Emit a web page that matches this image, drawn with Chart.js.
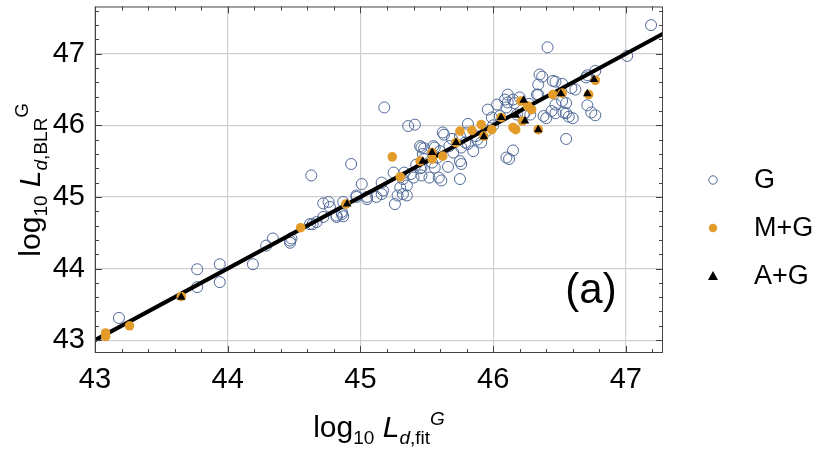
<!DOCTYPE html>
<html>
<head>
<meta charset="utf-8">
<script src="https://cdn.jsdelivr.net/npm/chart.js@4"></script>
<style>
  html, body { margin: 0; padding: 0; background: #fff; }
  #wrap { width: 830px; height: 452px; }
</style>
</head>
<body>
<div id="wrap"><canvas id="chart" width="830" height="452"></canvas></div>
<script>
// values: [log10 L_fit, log10 L_BLR]
const gPoints = [
  [43.18,43.31],[43.77,43.99],[43.77,43.74],[43.94,44.06],[43.94,43.81],[44.19,44.06],
  [44.29,44.32],[44.34,44.42],[44.47,44.39],[44.47,44.36],[44.48,44.42],[44.62,44.62],
  [44.64,44.62],[44.67,44.65],[44.63,45.30],[44.72,44.91],[44.76,44.93],[44.77,44.86],
  [44.72,44.72],[44.82,44.72],[44.87,44.93],[44.86,44.76],[44.87,44.73],[44.97,45.00],
  [45.05,45.00],[44.93,45.46],[44.82,44.74],[44.86,44.79],[44.97,45.02],[45.05,44.97],
  [45.12,45.00],[45.16,45.20],[45.17,45.09],[45.16,45.04],[45.25,45.34],[45.30,45.13],
  [45.28,45.02],[45.35,45.02],[45.32,45.25],[45.38,45.32],[45.46,45.69],[45.46,45.30],
  [45.52,45.27],[45.56,45.41],[45.56,45.69],[45.26,44.90],[45.36,45.99],[45.41,46.01],
  [45.62,45.90],[45.85,45.64],[45.75,45.50],[46.10,45.55],[46.15,45.65],[45.45,45.71],
  [45.47,45.60],[45.48,45.53],[45.55,45.71],[45.60,45.64],[45.67,45.71],[45.69,45.81],
  [45.75,45.85],[45.79,45.76],[45.80,45.90],[45.87,45.85],[45.95,45.92],[45.99,46.11],
  [46.05,46.13],[46.09,46.36],[46.10,46.25],[46.20,46.39],[46.24,46.18],[45.76,45.69],
  [46.41,47.09],[47.19,47.40],[47.01,46.97],[46.77,46.76],[46.70,46.67],[46.37,46.68],
  [46.47,46.61],[46.62,46.50],[46.55,46.31],[46.47,46.29],[46.47,46.17],[46.55,46.17],
  [46.57,46.12],[46.71,46.28],[46.77,46.14],[46.55,45.81],[46.12,45.53],[46.40,46.10],
  [46.34,46.43],[46.11,46.32],[46.16,46.31],[46.34,46.57],[45.18,46.25],[45.81,46.02],
  [45.63,45.87],[45.48,45.68],[45.76,45.46],[45.66,45.42],[45.61,45.23],[45.45,45.40],
  [46.11,46.43],[46.71,46.70],[46.60,46.10],[46.23,46.15],[45.96,46.22],[46.03,46.29],
  [46.52,46.58],[46.59,46.52],[46.52,46.34],[46.44,46.20],[46.53,46.18],[46.74,46.18],
  [46.38,46.13],[46.28,46.15],[46.15,46.36],[45.75,45.25],[45.59,45.27],[45.40,45.27],
  [45.54,45.48],[45.46,45.41],[45.33,45.34],[45.32,45.04],[45.35,45.16],[45.91,45.76],
  [45.81,45.74],[46.35,46.71],[46.45,46.62],[46.33,46.43],[46.18,46.15],[45.01,45.18],
  [45.70,45.62],[45.88,45.80],[46.00,46.00],[45.58,45.55],[45.42,45.45],[46.27,46.30]
];
const mgPoints = [
  [43.08,43.10],[43.08,43.05],[43.26,43.20],[43.65,43.61],[44.55,44.57],[44.89,44.90],
  [45.24,45.56],[45.30,45.28],[45.45,45.50],[45.54,45.53],[45.54,45.62],[45.62,45.57],
  [45.75,45.92],[45.84,45.93],[45.91,46.01],[45.99,45.94],[46.15,45.97],[46.21,46.34],
  [46.22,46.06],[46.29,46.22],[46.26,46.27],[46.45,46.43],[46.17,45.94],[46.34,45.94],
  [46.72,46.43],[46.77,46.63],[46.52,46.45],[46.06,46.11],[45.72,45.76],[45.93,45.85]
];
const agPoints = [
  [43.65,43.60],[44.90,44.90],[45.47,45.50],[45.54,45.62],[45.72,45.76],[45.93,45.84],
  [46.06,46.11],[46.17,46.14],[46.24,46.06],[46.23,46.35],[46.34,45.94],[46.51,46.44],
  [46.71,46.44],[46.76,46.64]
];
const fitLine = [[42.9,42.9],[47.4,47.4]];
const legendLabels = ["G", "M+G", "A+G"];
const xTickValues = [43, 44, 45, 46, 47];
const yTickValues = [43, 44, 45, 46, 47];

const FONT = '"Liberation Sans", Arial, Helvetica, sans-serif';
const toXY = arr => arr.map(p => ({ x: p[0], y: p[1] }));

// every 0.2 between the range ends, for minor tick marks
function minorTicks(from, to) {
  const out = [];
  for (let i = Math.ceil(from * 5 - 1e-6); i <= Math.floor(to * 5 + 1e-6); i++) out.push(Math.round(i * 2) / 10);
  return out;
}
const isMajor = v => Math.abs(v - Math.round(v)) < 1e-6;

function drawRich(ctx, parts, x, y) {
  let w = 0;
  parts.forEach(p => { ctx.font = p.f; w += ctx.measureText(p.t).width; });
  let cx = x - w / 2;
  parts.forEach(p => {
    ctx.font = p.f;
    ctx.fillText(p.t, cx, y + (p.dy || 0));
    cx += ctx.measureText(p.t).width;
  });
}

const extras = {
  id: "extras",
  afterDatasetsDraw(chart) {
    const { ctx, chartArea: a, scales } = chart;
    ctx.save();
    // frame
    ctx.strokeStyle = "#444";
    ctx.lineWidth = 1;
    ctx.strokeRect(a.left + 0.5, a.top + 0.5, a.right - a.left - 1, a.bottom - a.top - 1);
    // inward tick marks
    ctx.beginPath();
    minorTicks(scales.x.min, scales.x.max).forEach(v => {
      const px = Math.round(scales.x.getPixelForValue(v)) + 0.5;
      const len = isMajor(v) ? 7 : 4;
      ctx.moveTo(px, a.bottom); ctx.lineTo(px, a.bottom - len);
      ctx.moveTo(px, a.top); ctx.lineTo(px, a.top + len);
    });
    minorTicks(scales.y.min, scales.y.max).forEach(v => {
      const py = Math.round(scales.y.getPixelForValue(v)) + 0.5;
      const len = isMajor(v) ? 7 : 4;
      ctx.moveTo(a.left, py); ctx.lineTo(a.left + len, py);
      ctx.moveTo(a.right, py); ctx.lineTo(a.right - len, py);
    });
    ctx.stroke();

    // axis titles
    ctx.fillStyle = "#000";
    ctx.textBaseline = "alphabetic";
    const big = "30px " + FONT, bigI = "italic 30px " + FONT;
    const sm = "19px " + FONT, smI = "italic 19px " + FONT;
    drawRich(ctx, [
      { t: "log", f: big }, { t: "10", f: sm, dy: 7 }, { t: " ", f: big },
      { t: "L", f: bigI }, { t: "d", f: smI, dy: 7 }, { t: ",fit", f: sm, dy: 7 },
      { t: "G", f: smI, dy: -12 }
    ], (a.left + a.right) / 2, 437);
    ctx.save();
    ctx.translate(40, (a.top + a.bottom) / 2);
    ctx.rotate(-Math.PI / 2);
    drawRich(ctx, [
      { t: "log", f: big }, { t: "10", f: sm, dy: 7 }, { t: " ", f: big },
      { t: "L", f: bigI }, { t: "d", f: smI, dy: 7 }, { t: ",BLR", f: sm, dy: 7 },
      { t: "G", f: sm, dy: -12 }
    ], 0, 0);
    ctx.restore();

    // panel label
    ctx.font = "42px " + FONT;
    ctx.textAlign = "center";
    ctx.textBaseline = "middle";
    ctx.fillText("(a)", 591, 291);

    // legend
    const ds = chart.data.datasets;
    const order = [3, 1, 0];
    ctx.font = "27px " + FONT;
    ctx.textAlign = "left";
    order.forEach((di, i) => {
      const y = 180 + i * 48;
      const d = ds[di];
      ctx.beginPath();
      if (d.pointStyle === "triangle") {
        ctx.moveTo(713, y - 5); ctx.lineTo(718, y + 4); ctx.lineTo(708, y + 4); ctx.closePath();
        ctx.fillStyle = d.pointBackgroundColor; ctx.fill();
      } else {
        ctx.arc(713, y, 4.2, 0, Math.PI * 2);
        if (d.pointBackgroundColor !== "transparent") { ctx.fillStyle = d.pointBackgroundColor; ctx.fill(); }
        else { ctx.strokeStyle = d.pointBorderColor; ctx.lineWidth = 1; ctx.stroke(); }
      }
      ctx.fillStyle = "#000";
      ctx.fillText(legendLabels[i], 754, y + 1);
    });
    ctx.restore();
  }
};

new Chart(document.getElementById("chart"), {
  type: "scatter",
  data: {
    datasets: [
      { label: "A+G", data: toXY(agPoints), pointStyle: "triangle", pointRadius: 5,
        pointBackgroundColor: "#000", pointBorderColor: "#000", pointBorderWidth: 0, order: 0 },
      { label: "M+G", data: toXY(mgPoints), pointStyle: "circle", pointRadius: 4.8,
        pointBackgroundColor: "#e39c2a", pointBorderColor: "#e39c2a", pointBorderWidth: 0, order: 1 },
      { label: "fit", type: "line", data: toXY(fitLine), showLine: true, borderColor: "#000",
        borderWidth: 4, pointRadius: 0, fill: false, order: 2 },
      { label: "G", data: toXY(gPoints), pointStyle: "circle", pointRadius: 5.5,
        pointBackgroundColor: "transparent", pointBorderColor: "#4f6898", pointBorderWidth: 1, order: 3 }
    ]
  },
  options: {
    responsive: false,
    animation: false,
    layout: { padding: { top: 5, right: 167, left: 0, bottom: 0 } },
    plugins: { legend: { display: false }, tooltip: { enabled: false } },
    scales: {
      x: {
        type: "linear", min: 43, max: 47.28,
        afterBuildTicks: s => { s.ticks = xTickValues.map(v => ({ value: v })); },
        afterFit: s => { s.height = 99; s.paddingLeft = 0; s.paddingRight = 0; },
        grid: { color: "#cfcfcf", lineWidth: 1.2, drawTicks: false },
        border: { display: false },
        ticks: { padding: 10, color: "#000", font: { family: FONT, size: 29 }, maxRotation: 0 }
      },
      y: {
        type: "linear", min: 42.82, max: 47.66,
        afterBuildTicks: s => { s.ticks = yTickValues.map(v => ({ value: v })); },
        afterFit: s => { s.width = 95; s.paddingTop = 0; s.paddingBottom = 0; },
        grid: { color: "#cfcfcf", lineWidth: 1.2, drawTicks: false },
        border: { display: false },
        ticks: { padding: 10, color: "#000", font: { family: FONT, size: 29 } }
      }
    }
  },
  plugins: [extras]
});
</script>
</body>
</html>
